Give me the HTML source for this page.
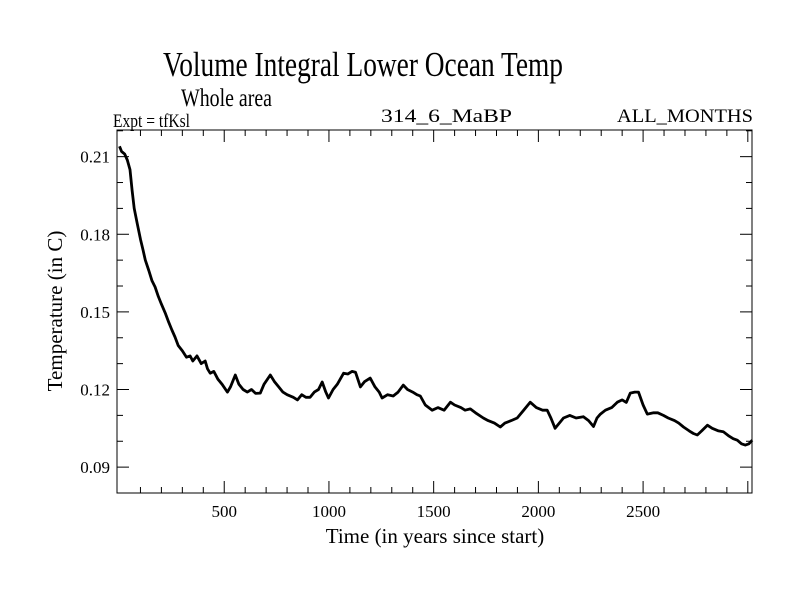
<!DOCTYPE html>
<html><head><meta charset="utf-8"><style>
html,body{margin:0;padding:0;background:#fff;}
svg{display:block;font-family:"Liberation Serif",serif;}
</style></head><body>
<svg id="chart" width="800" height="600" viewBox="0 0 800 600">
<text x="363" y="76" font-size="35" text-anchor="middle" textLength="400" lengthAdjust="spacingAndGlyphs">Volume Integral Lower Ocean Temp</text>
<text x="181" y="106" font-size="25" textLength="91" lengthAdjust="spacingAndGlyphs">Whole area</text>
<text x="113" y="127" font-size="19" textLength="77" lengthAdjust="spacingAndGlyphs">Expt = tfKsl</text>
<text x="381" y="122" font-size="19" textLength="131" lengthAdjust="spacingAndGlyphs">314_6_MaBP</text>
<text x="617" y="122" font-size="19" textLength="136" lengthAdjust="spacingAndGlyphs">ALL_MONTHS</text>
<text transform="translate(62,311) rotate(-90)" font-size="21" text-anchor="middle">Temperature (in C)</text>
<text x="435" y="543" font-size="21" text-anchor="middle">Time (in years since start)</text>
<g id="axes"></g>
<path id="series" fill="none" stroke="#000" stroke-width="2.8" stroke-linejoin="round"/>
<rect x="117" y="130" width="635" height="363" fill="none" stroke="#000" stroke-width="1"/>
</svg>
<script>
const years=[0,10,25,37,50,60,70,85,100,112,123,140,155,170,185,200,218,235,250,265,280,300,320,337,350,370,390,409,420,433,450,470,490,515,530,553,570,590,610,630,650,672,690,720,740,760,780,800,830,850,870,890,910,930,950,968,985,998,1020,1040,1070,1090,1110,1127,1150,1170,1197,1220,1240,1254,1280,1307,1330,1355,1375,1400,1420,1436,1460,1493,1520,1550,1580,1600,1630,1650,1675,1700,1737,1760,1790,1818,1840,1870,1899,1930,1961,1990,2020,2042,2060,2080,2100,2120,2150,2180,2215,2240,2263,2280,2296,2320,2350,2377,2400,2420,2439,2460,2478,2500,2520,2550,2570,2597,2620,2650,2670,2693,2720,2740,2759,2780,2807,2830,2860,2883,2910,2930,2950,2970,2988,3005,3021];
const temps=[.214,.212,.211,.2087,.205,.197,.190,.184,.178,.174,.170,.166,.162,.1596,.156,.153,.1496,.146,.143,.1403,.137,.135,.1325,.133,.131,.133,.130,.131,.128,.1263,.127,.124,.122,.119,.121,.1256,.122,.120,.119,.120,.1185,.1186,.122,.1256,.123,.121,.119,.118,.117,.116,.118,.117,.117,.119,.120,.1229,.119,.1167,.120,.122,.1263,.126,.127,.1267,.121,.123,.1244,.121,.119,.1167,.118,.1175,.119,.1217,.120,.119,.118,.1175,.114,.112,.113,.112,.1151,.114,.113,.112,.1125,.111,.109,.108,.107,.1055,.107,.108,.109,.112,.1151,.113,.112,.112,.109,.105,.107,.109,.110,.109,.1095,.108,.1057,.109,.1105,.112,.113,.1151,.116,.115,.1186,.119,.119,.114,.1105,.111,.111,.110,.109,.108,.107,.1055,.104,.103,.1024,.104,.1062,.105,.104,.1037,.102,.101,.1004,.099,.0985,.099,.1004];
const xTickLabels=["500","1000","1500","2000","2500"];
const yTickLabels=["0.09","0.12","0.15","0.18","0.21"];
const X0=117,X1=752,Y0=493,Y1=130,xmin=-12,xmax=3020,ymin=0.08,ymax=0.2203;
const sx=v=>X0+(v-xmin)/(xmax-xmin)*(X1-X0);
const sy=v=>Y0-(v-ymin)/(ymax-ymin)*(Y0-Y1);
const NS="http://www.w3.org/2000/svg";
const ax=document.getElementById('axes');
function line(x1,y1,x2,y2,name){const l=document.createElementNS(NS,'line');
l.setAttribute('x1',x1);l.setAttribute('y1',y1);l.setAttribute('x2',x2);l.setAttribute('y2',y2);
l.setAttribute('stroke','#000');l.setAttribute('stroke-width','1');


ax.appendChild(l);}
function txt(x,y,s,anchor,name){const t=document.createElementNS(NS,'text');
t.setAttribute('x',x);t.setAttribute('y',y);t.setAttribute('font-size','17');t.setAttribute('text-anchor',anchor);t.textContent=s;


ax.appendChild(t);}
for(let v=100;v<xmax;v+=100){const x=sx(v),len=(v%500===0)?12:6;
line(x,Y0,x,Y0-len,'x-tick');line(x,Y1,x,Y1+len,'x-tick-top');}
xTickLabels.forEach(s=>txt(sx(+s),Y0+24,s,'middle','x-tick-label'));
for(let k=9;k<=22;k++){const v=k/100,y=sy(v),len=(k%3===0)?12:6;
line(X0,y,X0+len,y,'y-tick');line(X1,y,X1-len,y,'y-tick-right');}
yTickLabels.forEach(s=>txt(X0-7,sy(+s)+6,s,'end','y-tick-label'));
let d='';years.forEach((yr,i)=>{d+=(i?'L':'M')+sx(yr).toFixed(1)+','+sy(temps[i]).toFixed(1);});
document.getElementById('series').setAttribute('d',d);
</script>
</body></html>
